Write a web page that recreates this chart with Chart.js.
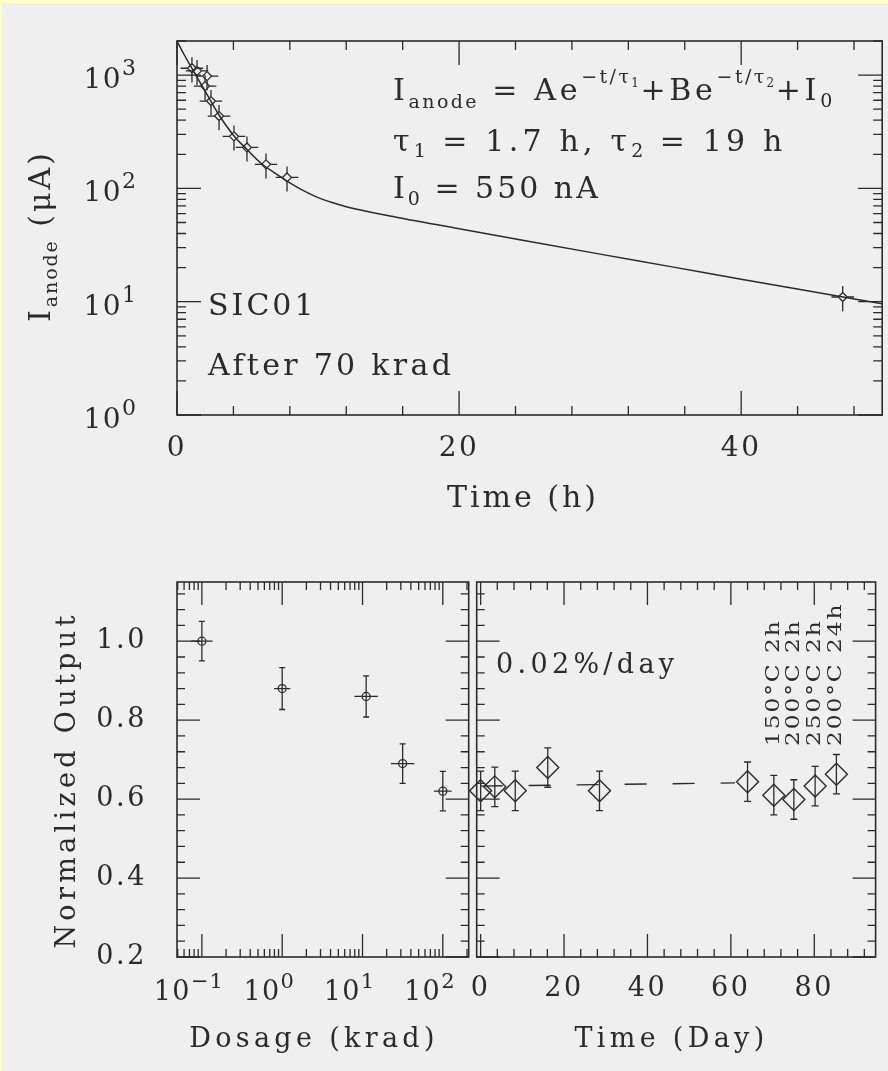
<!DOCTYPE html>
<html>
<head>
<meta charset="utf-8">
<title>SIC01 anode current and normalized output</title>
<script src="https://cdn.jsdelivr.net/npm/chart.js@4.4.1/dist/chart.umd.min.js"></script>
<style>
  html, body { margin: 0; padding: 0; }
  body { width: 888px; height: 1071px; background: #efefef; position: relative; overflow: hidden; }
  .edge { position: absolute; background: #ffffcc; }
  canvas { position: absolute; }
</style>
</head>
<body>
<div class="edge" style="left:0;top:0;width:888px;height:3px"></div>
<div class="edge" style="left:0;top:0;width:2px;height:1071px"></div>
<canvas id="decay" width="888" height="540" style="left:0;top:0;width:888px;height:540px"></canvas>
<canvas id="dose" width="474" height="531" style="left:0;top:540px;width:474px;height:531px"></canvas>
<canvas id="days" width="424" height="531" style="left:464px;top:540px;width:424px;height:531px"></canvas>
<script>
// ---------------- top panel: anode current after 70 krad ----------------
const decayHours         = [1.06, 1.42, 1.99, 2.13, 2.41, 2.98, 4.04, 4.96, 6.31, 7.80, 47.2];
const decayCurrent       = [1150, 1090, 800, 980, 590, 435, 288, 230, 163, 125, 11];
const decayHoursErr      = [0.8, 0.8, 0.8, 0.8, 0.8, 0.8, 0.8, 0.8, 0.8, 0.8, 0.8];
const decayCurrentRelErr = [0.25, 0.25, 0.25, 0.25, 0.25, 0.25, 0.25, 0.25, 0.25, 0.25, 0.25];
const fitHours   = [0, 0.5, 1, 1.5, 2, 2.5, 3, 4, 5, 6, 7, 8, 9, 10, 11, 12, 15, 20, 25, 30, 35, 40, 45, 50];
const fitCurrent = [2000, 1520, 1180, 920, 720, 560, 440, 295, 218, 165, 135, 112, 95, 83, 75, 69, 57.4, 44.1, 34.0, 26.3, 20.4, 15.8, 12.3, 9.6];
const hourTicks        = [0, 20, 40];
const currentDecades   = [1, 10, 100, 1000];
const currentExponents = ['0', '1', '2', '3'];

// ---------------- bottom left: output vs dosage ----------------
const dosage          = [0.1, 1.0, 11.1, 31.6, 100];
const dosageOutput    = [1.00, 0.88, 0.86, 0.69, 0.62];
const dosageOutputErr = [0.05, 0.053, 0.052, 0.05, 0.05];
const dosageErrFactor = [1.36, 1.26, 1.40, 1.40, 1.29];
const dosageDecades   = [0.1, 1, 10, 100];
const dosageExponents = ['−1', '0', '1', '2'];
const outputTicks     = [0.2, 0.4, 0.6, 0.8, 1.0];

// ---------------- bottom right: output vs time ----------------
const dayTime      = [0, 3.4, 8.3, 16.1, 28.5, 64.0, 70.3, 75.1, 80.2, 85.3];
const dayOutput    = [0.621, 0.631, 0.621, 0.680, 0.621, 0.644, 0.610, 0.599, 0.633, 0.663];
const dayOutputErr = [0.05, 0.05, 0.05, 0.05, 0.05, 0.05, 0.05, 0.05, 0.05, 0.05];
const trendDays    = [0, 61];
const trendOutput  = [0.633, 0.641];
const dayTicks     = [0, 20, 40, 60, 80];
const annealLabels = ['150°C 2h', '200°C 2h', '250°C 2h', '200°C 24h'];
const annealDays   = [70.3, 75.1, 80.2, 85.3];

// ---------------- helpers ----------------
const FONT = 'DejaVu Serif';
const INK = '#2b2b2b';
Chart.defaults.font.family = FONT;
Chart.defaults.color = INK;

const pts = (xs, ys) => xs.map((v, i) => ({x: v, y: ys[i]}));
function linSteps(a, b, step, skip) {
  const out = [];
  for (let k = 0; a + k * step <= b + 1e-9; k++) {
    const v = +(a + k * step).toFixed(6);
    if (!skip.some(s => Math.abs(s - v) < 1e-9)) out.push(v);
  }
  return out;
}
function logMinor(lo, hi) {
  const out = [];
  for (let e = Math.floor(Math.log10(lo)); e <= Math.ceil(Math.log10(hi)); e++)
    for (let m = 2; m < 10; m++) { const v = m * Math.pow(10, e); if (v >= lo && v <= hi) out.push(v); }
  return out;
}
function rich(ctx, parts, x, y, o = {}) {
  const sx = o.sx || 1;
  const ls = o.ls != null ? o.ls : 0.1;
  ctx.save();
  ctx.translate(x, y);
  if (o.rot) ctx.rotate(o.rot);
  ctx.scale(sx, 1);
  ctx.fillStyle = INK;
  ctx.textBaseline = 'alphabetic';
  ctx.textAlign = 'left';
  const setFont = p => {
    ctx.font = p.s + 'px "' + FONT + '"';
    ctx.letterSpacing = (ls * p.s).toFixed(2) + 'px';
  };
  const ws = parts.map(p => { setFont(p); return ctx.measureText(p.t).width; });
  const total = ws.reduce((a, b) => a + b, 0);
  let cx = o.align === 'center' ? -total / 2 : o.align === 'right' ? -total : 0;
  parts.forEach((p, i) => { setFont(p); ctx.fillText(p.t, cx, p.dy || 0); cx += ws[i]; });
  ctx.restore();
}
const spacing = { id: 'spacing', beforeDraw(chart) { chart.ctx.letterSpacing = '2.6px'; } };

function framePlugin(spec) {
  return {
    id: 'frameTicks',
    beforeDatasetsDraw(chart) {
      const {ctx, chartArea: a, scales: {x, y}} = chart;
      ctx.save();
      ctx.strokeStyle = INK;
      ctx.lineWidth = 1.6;
      ctx.strokeRect(a.left, a.top, a.right - a.left, a.bottom - a.top);
      ctx.lineWidth = 1.3;
      ctx.beginPath();
      const mark = (scale, vals, len, vertical) => vals.forEach(v => {
        const p = scale.getPixelForValue(v);
        if (vertical) {
          if (p < a.left - 0.5 || p > a.right + 0.5) return;
          ctx.moveTo(p, a.bottom); ctx.lineTo(p, a.bottom - len);
          ctx.moveTo(p, a.top); ctx.lineTo(p, a.top + len);
        } else {
          if (p < a.top - 0.5 || p > a.bottom + 0.5) return;
          ctx.moveTo(a.left, p); ctx.lineTo(a.left + len, p);
          ctx.moveTo(a.right, p); ctx.lineTo(a.right - len, p);
        }
      });
      mark(x, spec.xMajor, spec.major, true);
      mark(x, spec.xMinor, spec.minor, true);
      mark(y, spec.yMajor, spec.major, false);
      mark(y, spec.yMinor, spec.minor, false);
      ctx.stroke();
      ctx.restore();
    }
  };
}

const errorBars = {
  id: 'errorBars',
  afterDatasetsDraw(chart) {
    const {ctx, scales: {x, y}} = chart;
    chart.data.datasets.forEach(ds => {
      const e = ds.errorBars;
      if (!e) return;
      ctx.save();
      ctx.strokeStyle = INK;
      ctx.lineWidth = 1.3;
      ctx.beginPath();
      const g = e.gap || 0, c = e.cap || 0;
      ds.data.forEach((p, i) => {
        const px = x.getPixelForValue(p.x), py = y.getPixelForValue(p.y);
        if (e.yLo) {
          const y1 = y.getPixelForValue(e.yLo[i]), y2 = y.getPixelForValue(e.yHi[i]);
          ctx.moveTo(px, y1); ctx.lineTo(px, py + g);
          ctx.moveTo(px, py - g); ctx.lineTo(px, y2);
          if (c) { ctx.moveTo(px - c, y1); ctx.lineTo(px + c, y1); ctx.moveTo(px - c, y2); ctx.lineTo(px + c, y2); }
        }
        if (e.xLo) {
          const x1 = x.getPixelForValue(e.xLo[i]), x2 = x.getPixelForValue(e.xHi[i]);
          ctx.moveTo(x1, py); ctx.lineTo(px - g, py);
          ctx.moveTo(px + g, py); ctx.lineTo(x2, py);
        }
      });
      ctx.stroke();
      ctx.restore();
    });
  }
};

const fixBox = (w, h) => s => {
  if (w != null) s.width = w;
  if (h != null) s.height = h;
  s.paddingLeft = 0; s.paddingRight = 0; s.paddingTop = 0; s.paddingBottom = 0;
};
const noGrid = { display: false, drawTicks: false };

// ---------------- chart 1: anode current ----------------
new Chart(document.getElementById('decay'), {
  type: 'scatter',
  data: {
    datasets: [
      {
        data: pts(fitHours, fitCurrent), showLine: true, borderColor: INK, borderWidth: 1.5,
        pointRadius: 0, tension: 0.4, cubicInterpolationMode: 'monotone', clip: false
      },
      {
        data: pts(decayHours, decayCurrent), pointStyle: 'rectRot', pointRadius: 4.5,
        borderColor: INK, backgroundColor: 'rgba(0,0,0,0)', borderWidth: 1.3, clip: false,
        errorBars: {
          xLo: decayHours.map((v, i) => v - decayHoursErr[i]),
          xHi: decayHours.map((v, i) => v + decayHoursErr[i]),
          yLo: decayCurrent.map((v, i) => v * (1 - decayCurrentRelErr[i])),
          yHi: decayCurrent.map((v, i) => v * (1 + decayCurrentRelErr[i])),
          gap: 4.5
        }
      }
    ]
  },
  options: {
    responsive: false, animation: false, events: [],
    layout: { padding: { left: 177, top: 41, right: 4, bottom: 0 } },
    plugins: { legend: { display: false }, tooltip: { enabled: false } },
    scales: {
      x: {
        type: 'linear', min: 0, max: 50, position: 'bottom',
        afterBuildTicks: s => { s.ticks = hourTicks.map(v => ({value: v})); },
        afterFit: fixBox(null, 125),
        grid: noGrid, border: { display: false },
        ticks: { font: { size: 28 }, padding: 17, maxRotation: 0, autoSkip: false }
      },
      y: {
        type: 'logarithmic', min: 1, max: 2000, display: false,
        afterBuildTicks: s => { s.ticks = currentDecades.map(v => ({value: v})); }
      }
    }
  },
  plugins: [
    spacing,
    framePlugin({
      xMajor: hourTicks, xMinor: linSteps(0, 50, 4, hourTicks),
      yMajor: currentDecades, yMinor: logMinor(1, 2000), major: 24, minor: 9
    }),
    errorBars,
    {
      id: 'decayText',
      afterDraw(chart) {
        const ctx = chart.ctx, y = chart.scales.y;
        currentDecades.forEach((v, i) => {
          rich(ctx, [{t: '10', s: 28}, {t: currentExponents[i], s: 22, dy: -13}], 137, y.getPixelForValue(v) + 13, {align: 'right', ls: 0.05});
        });
        rich(ctx, [{t: 'I', s: 30}, {t: 'anode', s: 19, dy: 7}, {t: ' (μA)', s: 30}], 50, 322, {rot: -Math.PI / 2});
        rich(ctx, [{t: 'I', s: 30}, {t: 'anode', s: 19, dy: 8}, {t: ' = Ae', s: 30}, {t: '−t/τ', s: 19, dy: -17},
                   {t: '1', s: 12, dy: -13}, {t: '+Be', s: 30}, {t: '−t/τ', s: 19, dy: -17}, {t: '2', s: 12, dy: -13},
                   {t: '+I', s: 30}, {t: '0', s: 19, dy: 7}], 393, 100, {ls: 0.125});
        rich(ctx, [{t: 'τ', s: 30}, {t: '1', s: 19, dy: 6}, {t: ' = 1.7 h, ', s: 30}, {t: 'τ', s: 30}, {t: '2', s: 19, dy: 6},
                   {t: ' = 19 h', s: 30}], 393, 151, {ls: 0.14});
        rich(ctx, [{t: 'I', s: 30}, {t: '0', s: 19, dy: 7}, {t: ' = 550 nA', s: 30}], 393, 198);
        rich(ctx, [{t: 'SIC01', s: 30}], 208, 315);
        rich(ctx, [{t: 'After 70 krad', s: 30}], 208, 375, {ls: 0.11});
        rich(ctx, [{t: 'Time (h)', s: 30}], 523, 507, {align: 'center'});
      }
    }
  ]
});

// ---------------- chart 2: output vs dosage ----------------
new Chart(document.getElementById('dose'), {
  type: 'scatter',
  data: {
    datasets: [{
      data: pts(dosage, dosageOutput), pointStyle: 'circle', pointRadius: 4,
      borderColor: INK, backgroundColor: 'rgba(0,0,0,0)', borderWidth: 1.3, clip: false,
      errorBars: {
        xLo: dosage.map((v, i) => v / dosageErrFactor[i]),
        xHi: dosage.map((v, i) => v * dosageErrFactor[i]),
        yLo: dosageOutput.map((v, i) => v - dosageOutputErr[i]),
        yHi: dosageOutput.map((v, i) => v + dosageOutputErr[i]),
        cap: 3
      }
    }]
  },
  options: {
    responsive: false, animation: false, events: [],
    layout: { padding: { left: 0, top: 42, right: 4, bottom: 114 } },
    plugins: { legend: { display: false }, tooltip: { enabled: false } },
    scales: {
      x: {
        type: 'logarithmic', min: 0.049, max: 210, display: false,
        afterBuildTicks: s => { s.ticks = dosageDecades.map(v => ({value: v})); }
      },
      y: {
        type: 'linear', min: 0.2, max: 1.15, position: 'left',
        afterBuildTicks: s => { s.ticks = outputTicks.map(v => ({value: v})); },
        afterFit: fixBox(177, null),
        grid: noGrid, border: { display: false },
        ticks: { font: { size: 27 }, padding: 30, callback: v => Number(v).toFixed(1) }
      }
    }
  },
  plugins: [
    spacing,
    framePlugin({
      xMajor: dosageDecades, xMinor: logMinor(0.049, 210),
      yMajor: outputTicks, yMinor: linSteps(0.2, 1.15, 0.04, outputTicks), major: 23, minor: 8
    }),
    errorBars,
    {
      id: 'doseText',
      afterDraw(chart) {
        const ctx = chart.ctx, x = chart.scales.x;
        dosageDecades.forEach((v, i) => {
          rich(ctx, [{t: '10', s: 27}, {t: dosageExponents[i], s: 21, dy: -12}], x.getPixelForValue(v) - 13, 460, {align: 'center', ls: 0.05});
        });
        rich(ctx, [{t: 'Normalized Output', s: 27}], 75, 240, {rot: -Math.PI / 2, align: 'center', ls: 0.16});
        rich(ctx, [{t: 'Dosage (krad)', s: 27}], 314, 507, {align: 'center', ls: 0.16});
      }
    }
  ]
});

// ---------------- chart 3: output vs time ----------------
new Chart(document.getElementById('days'), {
  type: 'scatter',
  data: {
    datasets: [
      {
        data: pts(trendDays, trendOutput), showLine: true, borderColor: INK, borderWidth: 1.4,
        borderDash: [22, 26], pointRadius: 0, clip: false
      },
      {
        data: pts(dayTime, dayOutput), pointStyle: 'rectRot', pointRadius: 11,
        borderColor: INK, backgroundColor: 'rgba(0,0,0,0)', borderWidth: 1.4, clip: false,
        errorBars: {
          yLo: dayOutput.map((v, i) => v - dayOutputErr[i]),
          yHi: dayOutput.map((v, i) => v + dayOutputErr[i]),
          cap: 3.5
        }
      }
    ]
  },
  options: {
    responsive: false, animation: false, events: [],
    layout: { padding: { left: 12.7, top: 42, right: 5, bottom: 0 } },
    plugins: { legend: { display: false }, tooltip: { enabled: false } },
    scales: {
      x: {
        type: 'linear', min: -0.94, max: 94.7, position: 'bottom',
        afterBuildTicks: s => { s.ticks = dayTicks.map(v => ({value: v})); },
        afterFit: fixBox(null, 114),
        grid: noGrid, border: { display: false },
        ticks: { font: { size: 27 }, padding: 16, maxRotation: 0, autoSkip: false }
      },
      y: { type: 'linear', min: 0.2, max: 1.15, display: false }
    }
  },
  plugins: [
    spacing,
    framePlugin({
      xMajor: dayTicks, xMinor: linSteps(0, 94, 4, dayTicks),
      yMajor: outputTicks, yMinor: linSteps(0.2, 1.15, 0.04, outputTicks), major: 23, minor: 8
    }),
    errorBars,
    {
      id: 'daysText',
      afterDraw(chart) {
        const ctx = chart.ctx, x = chart.scales.x;
        rich(ctx, [{t: '0.02%/day', s: 27}], 32, 133, {ls: 0.16});
        rich(ctx, [{t: 'Time (Day)', s: 27}], 207.5, 507, {align: 'center', ls: 0.16});
        annealDays.forEach((d, i) => {
          rich(ctx, [{t: annealLabels[i], s: 18}], x.getPixelForValue(d) + 5, 206, {rot: -Math.PI / 2, sx: 1.3, ls: 0.08});
        });
      }
    }
  ]
});
</script>
</body>
</html>
